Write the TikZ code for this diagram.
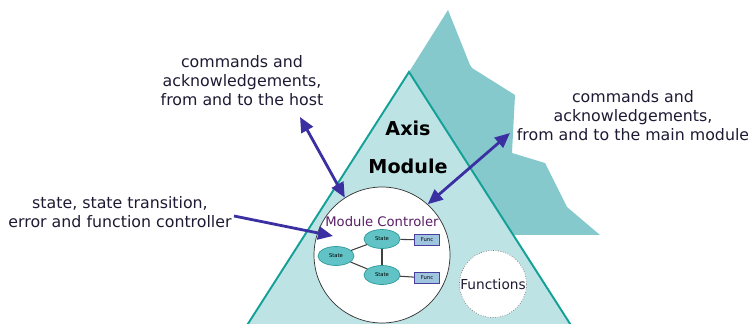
\documentclass[tikz,border=0pt]{standalone}
\usepackage{fontspec}
\setmainfont{DejaVu Sans}
\usetikzlibrary{arrows.meta,shapes.geometric,positioning}
\definecolor{backteal}{HTML}{86C9CD}
\definecolor{frontteal}{HTML}{BDE3E5}
\definecolor{edgeteal}{HTML}{13A096}
\definecolor{flowblue}{HTML}{3B30A2}
\definecolor{statefill}{HTML}{62C3C6}
\definecolor{stateedge}{HTML}{2A9A9A}
\definecolor{funcfill}{HTML}{9FC5DF}
\definecolor{funcedge}{HTML}{4A3F9E}
\definecolor{inktext}{HTML}{1E1A33}
\definecolor{ctrlpurple}{HTML}{5A1F66}

\begin{document}
\begin{tikzpicture}[
  x=0.02cm, y=-0.02cm,
  info/.style={align=center, font=\fontsize{9}{10.8}\selectfont, text=inktext, inner sep=1pt},
  title/.style={font=\bfseries\fontsize{10.9}{13}\selectfont, text=black, inner sep=0pt},
  state/.style={ellipse, draw=stateedge, fill=statefill, thin, minimum width=7.2mm, minimum height=3.8mm, inner sep=0pt, font=\fontsize{3}{3}\selectfont},
  func/.style={rectangle, draw=funcedge, fill=funcfill, semithick, minimum width=5mm, minimum height=2.2mm, inner sep=0pt, font=\fontsize{3}{3}\selectfont},
  link/.style={draw=black!75, semithick},
  flow/.style={draw=flowblue, line width=1.6pt},
  >={Triangle[length=3mm, width=2.6mm]}
]
  \useasboundingbox (0,0) rectangle (748,324);
  \clip (0,0) rectangle (748,324);

  % mountains
  \fill[backteal] (409,72) -- (448,10) -- (470,65) -- (472,68) -- (515,95) -- (512,153)
    -- (545,163) -- (567,207) -- (600,235) -- (513,235) -- cycle;
  \fill[frontteal] (409,72) -- (244,330) -- (574,330) -- cycle;
  \draw[edgeteal, line width=1.1pt] (244,330) -- (409,72) -- (574,330);

  \node[title] (axis) at (408,128) {Axis};
  \node[title] (module) at (408,166) {Module};

  % module controller
  \node[circle, draw=black!80, fill=white, thin, minimum size=2.72cm, inner sep=0pt] (ctrl) at (382,255) {};
  \node[font=\fontsize{7.5}{9}\selectfont, text=ctrlpurple, inner sep=0pt] (ctrl title) at (382,222) {Module Controler};

  \node[state] (s1) at (336,256) {State};
  \node[state] (s2) at (382,239) {State};
  \node[state] (s3) at (382,275) {State};
  \node[func] (f1) at (427,240) {Func};
  \node[func] (f2) at (427,278) {Func};

  \draw[link] (s1) -- (s2);
  \draw[link] (s1) -- (s3);
  \draw[link] (s2) -- (s3);
  \draw[link] (s2) -- (f1);
  \draw[link] (s3) -- (f2);

  \node[circle, draw=black!55, densely dotted, fill=white, minimum size=1.34cm, inner sep=0pt,
    font=\fontsize{7.8}{9}\selectfont, text=inktext] (funcs) at (493,284) {Functions};

  % labels
  \node[info] (host) at (242,81) {commands and\\acknowledgements,\\from and to the host};
  \node[info] (main) at (633,116) {commands and\\acknowledgements,\\from and to the main module};
  \node[info] (ctrl note) at (120,212) {state, state transition,\\error and function controller};

  % arrows
  \coordinate (host tip) at (300,117);
  \coordinate (main tip) at (510,133);
  \coordinate (note tail) at (234,216);
  \coordinate (note tip) at (333,236);
  \draw[flow, <->] (host tip) -- (ctrl.123);
  \draw[flow, <->] (main tip) -- (ctrl.48);
  \draw[flow, ->] (note tail) -- (note tip);
\end{tikzpicture}
\end{document}
